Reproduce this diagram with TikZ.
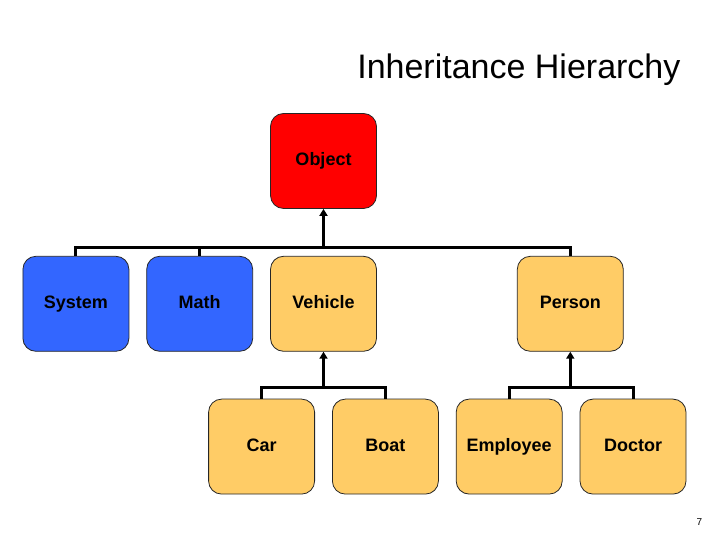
\documentclass[tikz,border=0pt]{standalone}
\usepackage{fontspec}
\setmainfont{Liberation Sans}
\usetikzlibrary{arrows.meta,positioning,calc}
\definecolor{objred}{HTML}{FF0000}
\definecolor{sysblue}{HTML}{3366FF}
\definecolor{userorange}{HTML}{FFCC66}

\begin{document}
\begin{tikzpicture}[x=1pt, y=1pt,
  box/.style={draw=black!85, line width=0.8pt, rounded corners=13pt, minimum width=106pt, minimum height=95pt, inner sep=0pt, text height=13pt, text depth=4pt, font=\fontsize{18}{21}\selectfont\bfseries},
  link/.style={line width=3pt},
  arrow/.style={line width=3pt, -{Triangle[length=7pt, width=8pt]}}
]
\useasboundingbox (0,0) rectangle (720,540);
\node[anchor=base east, font=\fontsize{34}{40}\selectfont] (title) at (684,461) {Inheritance Hierarchy};
\node[box, fill=objred] (obj) at (323.5,379) {Object};
\node[box, fill=userorange, below=47pt of obj] (veh) {Vehicle};
\node[box, fill=sysblue, left=17pt of veh] (mat) {Math};
\node[box, fill=sysblue, left=17pt of mat] (sys) {System};
\node[box, fill=userorange, right=140pt of veh] (per) {Person};
\node[box, fill=userorange, below left=47pt and 8.5pt of veh.south, anchor=north east] (car) {Car};
\node[box, fill=userorange, right=17pt of car] (boat) {Boat};
\node[box, fill=userorange, right=17pt of boat] (emp) {Employee};
\node[box, fill=userorange, right=17pt of emp] (doc) {Doctor};
\node[font=\fontsize{10}{12}\selectfont] (page) at (699.5,17.5) {7};
\draw[link] (sys.north) -- ++(0,8) -| (per.north);
\draw[link] (mat.north) -- ++(0,8);
\draw[arrow] ($(veh.north)+(0,8)$) -- (obj.south);
\draw[link] (car.north) -- ++(0,11) -| (boat.north);
\draw[arrow] ($(veh.south)-(0,36)$) -- (veh.south);
\draw[link] (emp.north) -- ++(0,11) -| (doc.north);
\draw[arrow] ($(per.south)-(0,36)$) -- (per.south);
\end{tikzpicture}
\end{document}
